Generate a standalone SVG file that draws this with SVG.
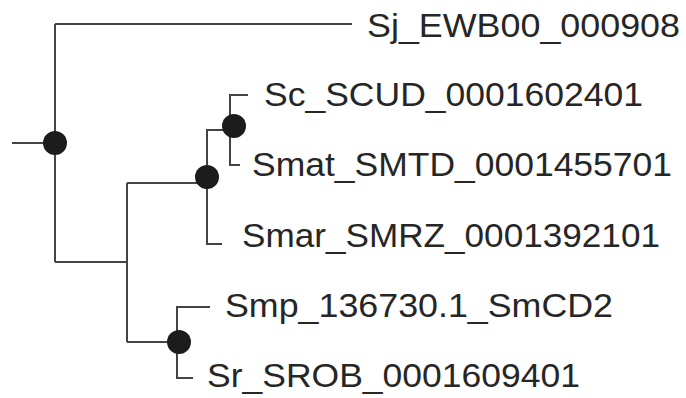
<svg xmlns="http://www.w3.org/2000/svg" width="686" height="398" viewBox="0 0 686 398">
<style>
.br{fill:none;stroke:#444;stroke-width:2}
.nd{fill:#1c1c1c}
.lb{font-family:"Liberation Sans",Arial,sans-serif;font-size:33px;fill:#262626}
</style>
<rect width="686" height="398" fill="#fff"/>
<g id="connectors">
<path class="br" d="M12,143 H55 M55,24 V262 M55,24 H352 M55,262 H127"/>
<path class="br" d="M127,183 V342 M127,183 H207 M127,342 H177"/>
<path class="br" d="M222,244 H207 V130 H230"/>
<path class="br" d="M248,95 H230 V165 H240"/>
<path class="br" d="M210,307 H177 V378 H193"/>
</g>
<g id="node-root"><circle class="nd" cx="55" cy="143" r="12"/></g>
<g id="node-a"><circle class="nd" cx="207" cy="177" r="12"/></g>
<g id="node-b"><circle class="nd" cx="234" cy="126" r="12"/></g>
<g id="node-c"><circle class="nd" cx="179" cy="342" r="12"/></g>
<g id="leaf-sj"><text class="lb" x="367" y="37" textLength="313" lengthAdjust="spacingAndGlyphs">Sj_EWB00_000908</text></g>
<g id="leaf-sc"><text class="lb" x="264" y="106" textLength="379" lengthAdjust="spacingAndGlyphs">Sc_SCUD_0001602401</text></g>
<g id="leaf-smat"><text class="lb" x="252" y="176" textLength="420" lengthAdjust="spacingAndGlyphs">Smat_SMTD_0001455701</text></g>
<g id="leaf-smar"><text class="lb" x="242" y="247" textLength="418" lengthAdjust="spacingAndGlyphs">Smar_SMRZ_0001392101</text></g>
<g id="leaf-smp"><text class="lb" x="225" y="317" textLength="388" lengthAdjust="spacingAndGlyphs">Smp_136730.1_SmCD2</text></g>
<g id="leaf-sr"><text class="lb" x="207" y="387" textLength="373" lengthAdjust="spacingAndGlyphs">Sr_SROB_0001609401</text></g>
</svg>
